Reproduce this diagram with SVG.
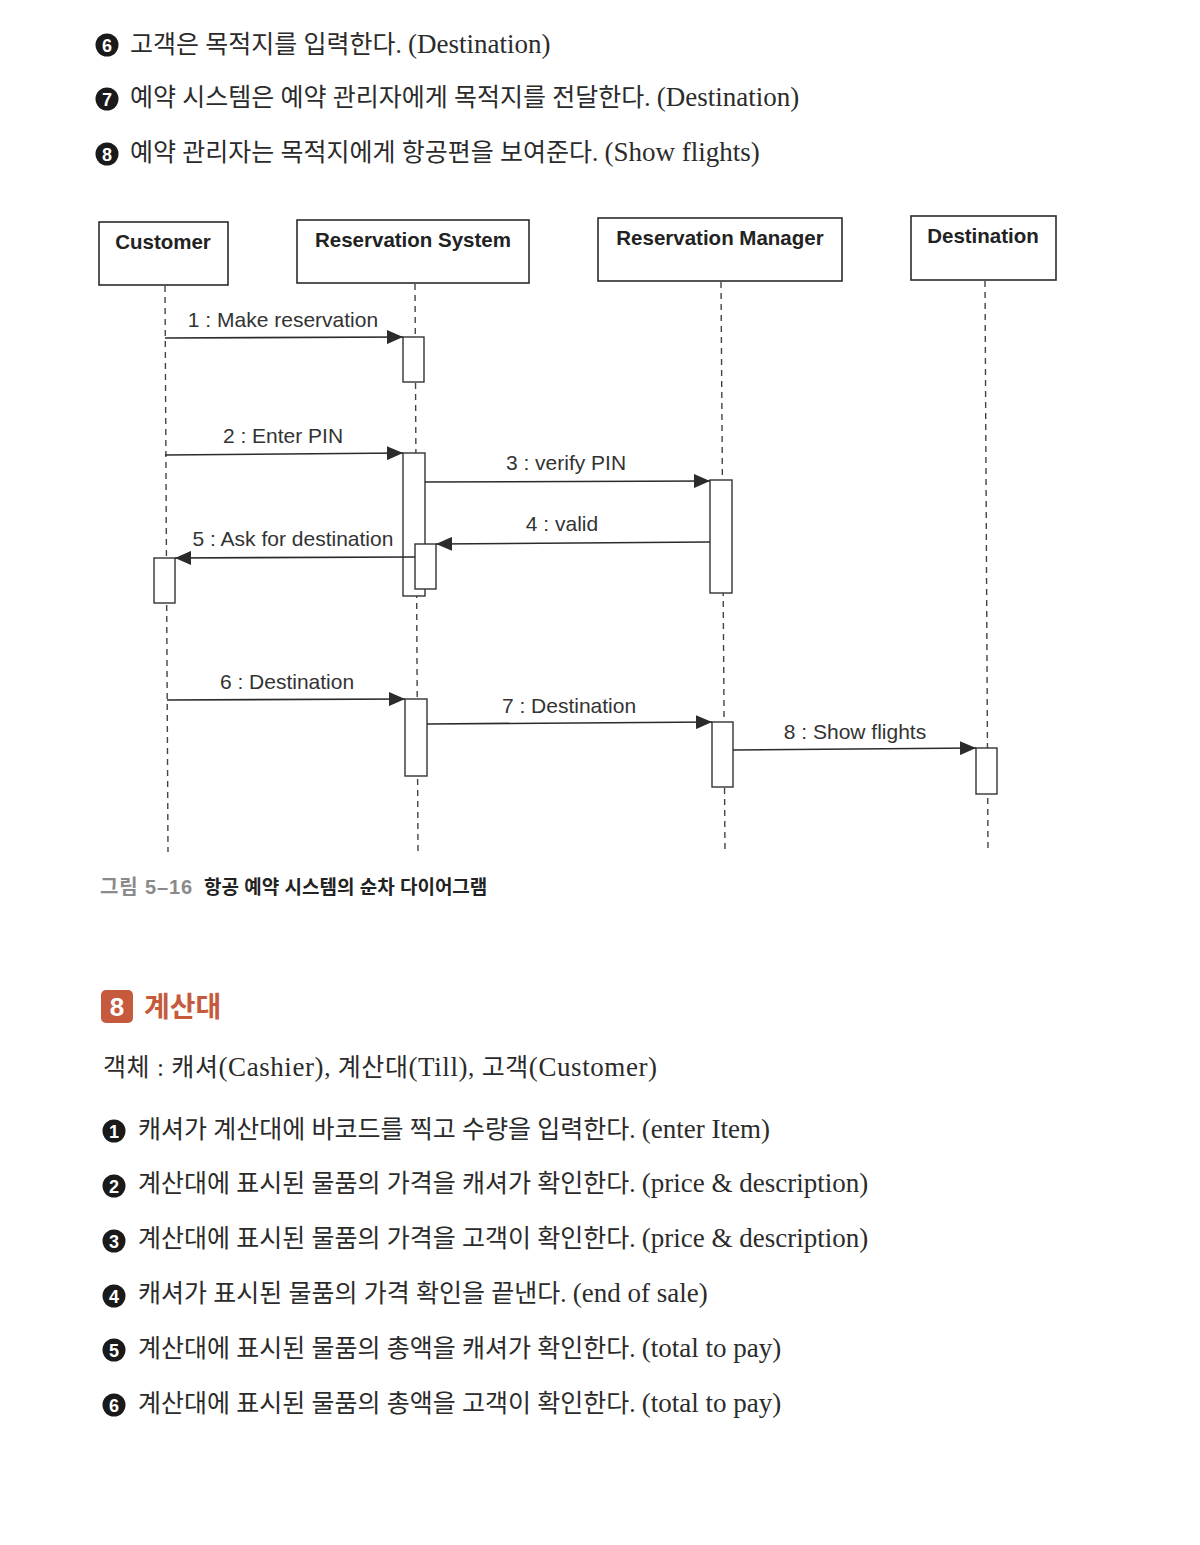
<svg xmlns="http://www.w3.org/2000/svg" width="1200" height="1545" viewBox="0 0 1200 1545">
<style>
.body{font-family:"Liberation Serif","Noto Sans CJK KR",serif;font-size:25px;fill:#2b2b2b}
.lat{font-size:27px}
.num{font-family:"Liberation Sans","DejaVu Sans",sans-serif;font-weight:bold;font-size:18px;fill:#fff;text-anchor:middle}
.box{fill:#fff;stroke:#2b2b2b;stroke-width:1.6}
.ttl{font-family:"Liberation Sans",Arial,sans-serif;font-weight:bold;font-size:20.5px;fill:#222;text-anchor:middle}
.life{stroke:#444;stroke-width:1.4;stroke-dasharray:6 5;fill:none}
.act{fill:#fff;stroke:#333;stroke-width:1.4}
.msg{stroke:#2b2b2b;stroke-width:1.6;fill:none;marker-end:url(#ah)}
.lbl{font-family:"Liberation Sans",Arial,sans-serif;font-size:21px;fill:#333;text-anchor:middle}
.cap{font-family:"Liberation Sans","Noto Sans CJK KR",sans-serif;font-size:19px;font-weight:bold}
</style>
<defs>
<marker id="ah" markerUnits="userSpaceOnUse" markerWidth="18" markerHeight="14" refX="16" refY="7" orient="auto">
<path d="M0,0 L16,7 L0,14 z" fill="#2b2b2b"/>
</marker>
</defs>
<rect width="1200" height="1545" fill="#fff"/>

<g id="top-text">
<circle cx="107" cy="45" r="11.5" fill="#1a1a1a"/><text class="num" x="107" y="51.5">6</text>
<text class="body" x="130" y="53">고객은 목적지를 입력한다. <tspan class="lat">(Destination)</tspan></text>
<circle cx="107" cy="99" r="11.5" fill="#1a1a1a"/><text class="num" x="107" y="105.5">7</text>
<text class="body" x="130" y="106">예약 시스템은 예약 관리자에게 목적지를 전달한다. <tspan class="lat">(Destination)</tspan></text>
<circle cx="107" cy="154" r="11.5" fill="#1a1a1a"/><text class="num" x="107" y="160.5">8</text>
<text class="body" x="130" y="161">예약 관리자는 목적지에게 항공편을 보여준다. <tspan class="lat">(Show flights)</tspan></text>
</g>

<g id="lifelines">
<line class="life" x1="165" y1="286" x2="168" y2="852"/>
<line class="life" x1="415" y1="284" x2="418" y2="852"/>
<line class="life" x1="721" y1="282" x2="725" y2="852"/>
<line class="life" x1="985" y1="281" x2="988" y2="852"/>
</g>

<g id="customer"><rect class="box" x="99" y="222" width="129" height="63"/><text class="ttl" x="163" y="249">Customer</text></g>
<g id="reservation-system"><rect class="box" x="297" y="220" width="232" height="63"/><text class="ttl" x="413" y="247">Reservation System</text></g>
<g id="reservation-manager"><rect class="box" x="598" y="218" width="244" height="63"/><text class="ttl" x="720" y="245">Reservation Manager</text></g>
<g id="destination"><rect class="box" x="911" y="216" width="145" height="64"/><text class="ttl" x="983" y="243">Destination</text></g>

<g id="activations">
<rect class="act" x="403" y="337" width="21" height="45"/>
<rect class="act" x="403" y="453" width="22" height="143"/>
<rect class="act" x="710" y="480" width="22" height="113"/>
<rect class="act" x="415" y="544" width="21" height="45"/>
<rect class="act" x="154" y="558" width="21" height="45"/>
<rect class="act" x="405" y="699" width="22" height="77"/>
<rect class="act" x="712" y="722" width="21" height="65"/>
<rect class="act" x="976" y="748" width="21" height="46"/>
</g>

<g id="connectors">
<line class="msg" x1="165" y1="338" x2="403" y2="337"/>
<line class="msg" x1="165" y1="455" x2="403" y2="453"/>
<line class="msg" x1="425" y1="482" x2="710" y2="481"/>
<line class="msg" x1="710" y1="542" x2="436" y2="544"/>
<line class="msg" x1="415" y1="557" x2="175" y2="558"/>
<line class="msg" x1="167" y1="700" x2="405" y2="699"/>
<line class="msg" x1="427" y1="724" x2="712" y2="722"/>
<line class="msg" x1="733" y1="750" x2="976" y2="748"/>
<text class="lbl" x="283" y="327">1 : Make reservation</text>
<text class="lbl" x="283" y="443">2 : Enter PIN</text>
<text class="lbl" x="566" y="470">3 : verify PIN</text>
<text class="lbl" x="562" y="531">4 : valid</text>
<text class="lbl" x="293" y="546">5 : Ask for destination</text>
<text class="lbl" x="287" y="689">6 : Destination</text>
<text class="lbl" x="569" y="713">7 : Destination</text>
<text class="lbl" x="855" y="739">8 : Show flights</text>
</g>

<g id="caption">
<text class="cap" x="100" y="894"><tspan fill="#8a8a8a" font-size="20" textLength="92" lengthAdjust="spacing">그림 5–16</tspan><tspan x="204" fill="#222">항공 예약 시스템의 순차 다이어그램</tspan></text>
</g>

<g id="section">
<rect x="101" y="990" width="32" height="33" rx="5" fill="#c65a3c"/>
<text x="117" y="1016" font-family="Liberation Sans,Arial,sans-serif" font-weight="bold" font-size="26" fill="#fff" text-anchor="middle">8</text>
<text x="144" y="1017" font-family="Noto Sans CJK KR,sans-serif" font-weight="bold" font-size="28" fill="#c65a3c">계산대</text>
<text class="body" x="103" y="1076" textLength="554" lengthAdjust="spacing">객체 : 캐셔<tspan class="lat">(Cashier)</tspan>, 계산대<tspan class="lat">(Till)</tspan>, 고객<tspan class="lat">(Customer)</tspan></text>
</g>

<g id="list">
<circle cx="114" cy="1131" r="11.5" fill="#1a1a1a"/><text class="num" x="114" y="1137.5">1</text>
<text class="body" x="138" y="1138">캐셔가 계산대에 바코드를 찍고 수량을 입력한다. <tspan class="lat">(enter Item)</tspan></text>
<circle cx="114" cy="1186" r="11.5" fill="#1a1a1a"/><text class="num" x="114" y="1192.5">2</text>
<text class="body" x="138" y="1192">계산대에 표시된 물품의 가격을 캐셔가 확인한다. <tspan class="lat">(price &amp; description)</tspan></text>
<circle cx="114" cy="1241" r="11.5" fill="#1a1a1a"/><text class="num" x="114" y="1247.5">3</text>
<text class="body" x="138" y="1247">계산대에 표시된 물품의 가격을 고객이 확인한다. <tspan class="lat">(price &amp; description)</tspan></text>
<circle cx="114" cy="1296" r="11.5" fill="#1a1a1a"/><text class="num" x="114" y="1302.5">4</text>
<text class="body" x="138" y="1302">캐셔가 표시된 물품의 가격 확인을 끝낸다. <tspan class="lat">(end of sale)</tspan></text>
<circle cx="114" cy="1350" r="11.5" fill="#1a1a1a"/><text class="num" x="114" y="1356.5">5</text>
<text class="body" x="138" y="1357">계산대에 표시된 물품의 총액을 캐셔가 확인한다. <tspan class="lat">(total to pay)</tspan></text>
<circle cx="114" cy="1405" r="11.5" fill="#1a1a1a"/><text class="num" x="114" y="1411.5">6</text>
<text class="body" x="138" y="1412">계산대에 표시된 물품의 총액을 고객이 확인한다. <tspan class="lat">(total to pay)</tspan></text>
</g>
</svg>
